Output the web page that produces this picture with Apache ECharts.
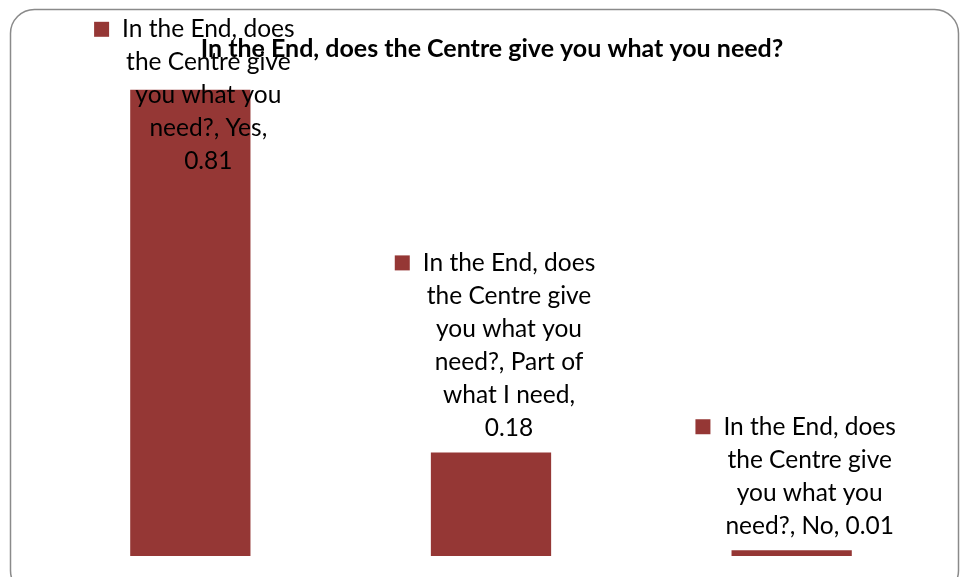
<!DOCTYPE html>
<html>
<head>
<meta charset="utf-8">
<script src="https://cdn.jsdelivr.net/npm/echarts@6/dist/echarts.min.js"></script>
<style>html,body{margin:0;padding:0;background:#fff;}#c{width:960px;height:577px;}</style>
</head>
<body>
<div id="c"></div>
<script>
var titleText = "In the End, does the Centre give you what you need?";
var seriesName = "In the End, does the Centre give you what you need?";
var categories = ["Yes", "Part of what I need", "No"];
var values = [0.81, 0.18, 0.01];
// label line breaks as shown in the picture
var labelLines = [
  ["In the End, does", "the Centre give", "you what you", "need?, Yes,", "0.81"],
  ["In the End, does", "the Centre give", "you what you", "need?, Part of", "what I need,", "0.18"],
  ["In the End, does", "the Centre give", "you what you", "need?, No, 0.01"]
];
var barColor = "#953735";

var chart = echarts.init(document.getElementById('c'), null, {renderer: 'canvas'});
var data = values.map(function (v, i) {
  return {
    value: v,
    label: { offset: i === 0 ? [18, 96] : [18, 0] }
  };
});
chart.setOption({
  animation: false,
  backgroundColor: '#ffffff',
  title: {
    text: titleText,
    left: 487, top: 31, textAlign: 'center',
    textStyle: { fontFamily: 'Lato', fontWeight: 'bold', fontSize: 25, color: '#000' }
  },
  grid: { left: 40, right: 18, top: 38, bottom: 21 },
  xAxis: {
    type: 'category', data: categories,
    axisLine: { show: false }, axisTick: { show: false }, axisLabel: { show: false }
  },
  yAxis: {
    type: 'value', min: 0, max: 0.9, show: false, splitLine: { show: false }
  },
  graphic: [{
    type: 'rect', z: -10,
    shape: { x: 10.5, y: 9.5, width: 948, height: 585, r: 24 },
    style: { fill: 'none', stroke: '#8a8a8a', lineWidth: 1.5 }
  }],
  series: [{
    type: 'bar', name: seriesName, data: data,
    barWidth: '40%',
    itemStyle: { color: barColor },
    label: {
      show: true, position: 'top', distance: 8,
      fontFamily: 'Lato', fontSize: 24.5, lineHeight: 33, color: '#000', align: 'center',
      formatter: function (p) {
        var lines = labelLines[p.dataIndex].slice();
        lines[0] = '{k|}{g|}' + lines[0] + '{p|}';
        return lines.join('\n');
      },
      rich: {
        k: { width: 15, height: 15, backgroundColor: barColor, verticalAlign: 'middle' },
        g: { width: 13 },
        p: { width: 28 }
      }
    }
  }]
});
</script>
</body>
</html>
